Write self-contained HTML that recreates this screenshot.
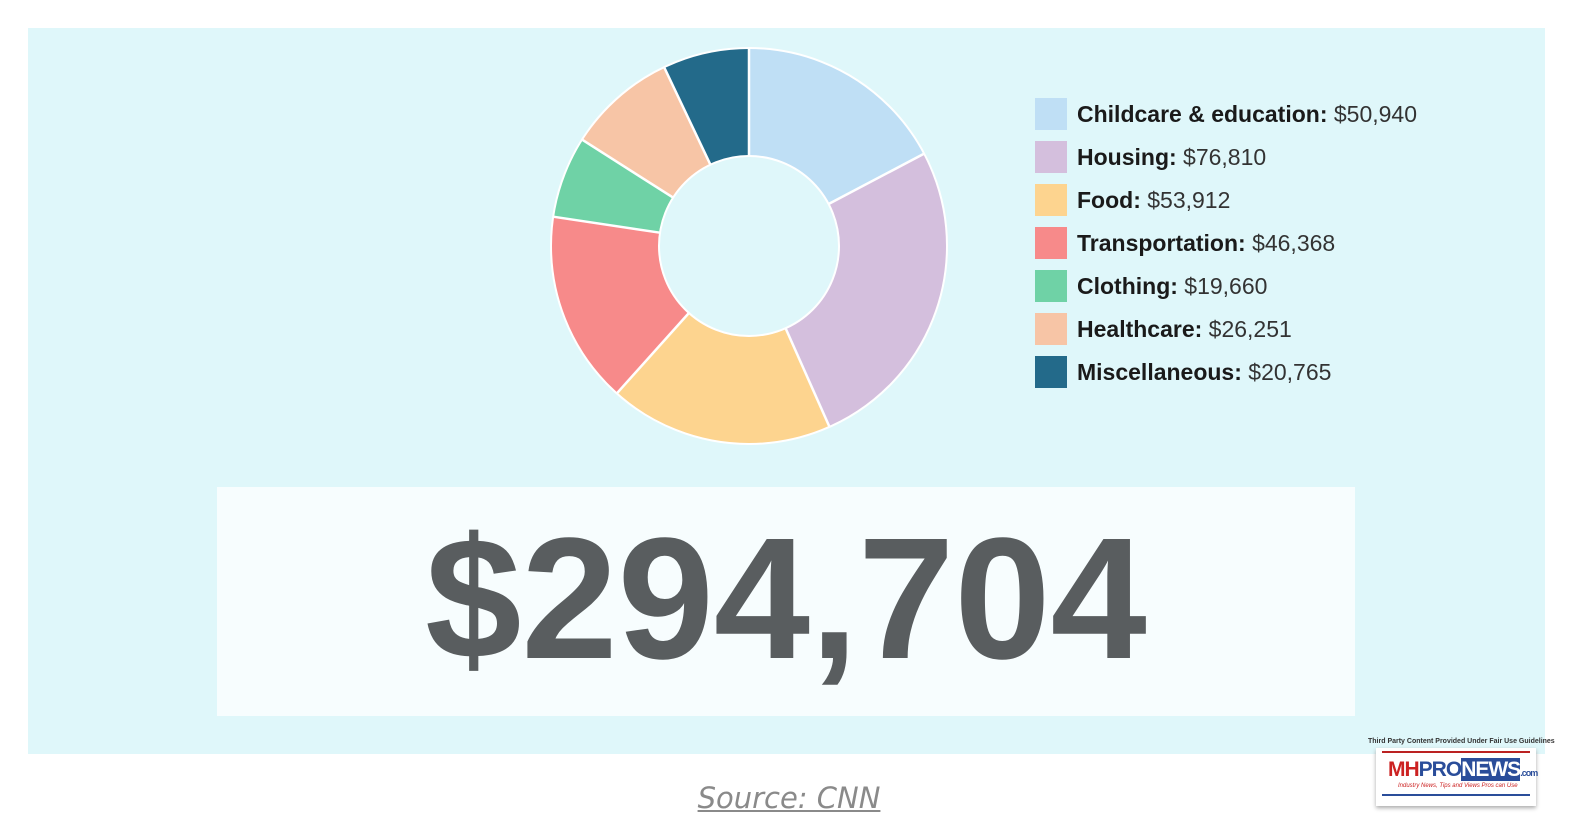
<!DOCTYPE html>
<html><head><meta charset="utf-8"><style>
body{margin:0;width:1570px;height:827px;background:#fff;position:relative;overflow:hidden;font-family:"Liberation Sans",Arial,sans-serif}
.panel{position:absolute;left:28px;top:28px;width:1517px;height:726px;background:#dff7fa}
.box{position:absolute;left:217px;top:487px;width:1138px;height:229px;background:#f7fdfe}
.big{position:absolute;left:0;top:484px;width:1572px;text-align:center;font-weight:bold;font-size:173px;line-height:229px;color:#595d5f}
.leg{position:absolute;left:1035px;font-size:23px;color:#1a1a1a;line-height:32px;white-space:nowrap}
.leg i{display:inline-block;width:32px;height:32px;vertical-align:top;margin-right:10px}
.leg span{color:#333}
.src{position:absolute;left:0;width:1578px;top:781px;text-align:center;font-family:"DejaVu Sans",sans-serif;font-style:italic;font-size:29px;color:#8a8a8a;text-decoration:underline}
</style></head><body>
<div class="panel"></div>
<svg style="position:absolute;left:0;top:0" width="1570" height="827">
<g transform="rotate(-90 749 246)" fill="none" stroke-width="108">
<circle cx="749" cy="246" r="144" stroke="#bfdff5" stroke-dasharray="156.4 1000" stroke-dashoffset="0"/>
<circle cx="749" cy="246" r="144" stroke="#d4bfdd" stroke-dasharray="235.8 1000" stroke-dashoffset="-156.4"/>
<circle cx="749" cy="246" r="144" stroke="#fdd48f" stroke-dasharray="165.5 1000" stroke-dashoffset="-392.2"/>
<circle cx="749" cy="246" r="144" stroke="#f78a8a" stroke-dasharray="142.4 1000" stroke-dashoffset="-557.7"/>
<circle cx="749" cy="246" r="144" stroke="#6fd2a6" stroke-dasharray="60.4 1000" stroke-dashoffset="-700.1"/>
<circle cx="749" cy="246" r="144" stroke="#f7c5a6" stroke-dasharray="80.6 1000" stroke-dashoffset="-760.5"/>
<circle cx="749" cy="246" r="144" stroke="#236a8a" stroke-dasharray="63.8 1000" stroke-dashoffset="-841.1"/>
</g>
<g stroke="#fff" stroke-width="2.5">
<line x1="828.6" y1="204" x2="924.2" y2="153.6"/>
<line x1="785.6" y1="328.2" x2="829.5" y2="426.9"/>
<line x1="688.9" y1="313" x2="616.8" y2="393.4"/>
<line x1="660" y1="232.7" x2="553.2" y2="216.7"/>
<line x1="673.1" y1="197.6" x2="582" y2="139.6"/>
<line x1="710.4" y1="164.7" x2="664.1" y2="67.1"/>
<line x1="749" y1="156" x2="749" y2="48"/>
</g>
<circle cx="749" cy="246" r="198" fill="none" stroke="#fff" stroke-width="2"/>
<circle cx="749" cy="246" r="90" fill="none" stroke="#fff" stroke-width="2"/>
</svg>
<div class="leg" style="top:98px"><i style="background:#bfdff5"></i><b>Childcare &amp; education:</b> <span>$50,940</span></div>
<div class="leg" style="top:141px"><i style="background:#d4bfdd"></i><b>Housing:</b> <span>$76,810</span></div>
<div class="leg" style="top:184px"><i style="background:#fdd48f"></i><b>Food:</b> <span>$53,912</span></div>
<div class="leg" style="top:227px"><i style="background:#f78a8a"></i><b>Transportation:</b> <span>$46,368</span></div>
<div class="leg" style="top:270px"><i style="background:#6fd2a6"></i><b>Clothing:</b> <span>$19,660</span></div>
<div class="leg" style="top:313px"><i style="background:#f7c5a6"></i><b>Healthcare:</b> <span>$26,251</span></div>
<div class="leg" style="top:356px"><i style="background:#236a8a"></i><b>Miscellaneous:</b> <span>$20,765</span></div>
<div class="box"></div>
<div class="big">$294,704</div>
<div style="position:absolute;left:1368px;top:738px;width:175px;font-size:7px;font-weight:bold;color:#333;white-space:nowrap">Third Party Content Provided Under Fair Use Guidelines</div>
<div style="position:absolute;left:1376px;top:748px;width:160px;height:58px;background:#fff;box-shadow:0 2px 4px #aaa">
<div style="position:absolute;left:6px;top:3px;width:148px;height:2px;background:#b22"></div>
<div style="position:absolute;left:12px;top:10px;font-size:21px;font-weight:bold;letter-spacing:-1px;white-space:nowrap"><span style="color:#c22">MH</span><span style="color:#2a4d9a">PRO</span><span style="background:#2a4d9a;color:#fff">NEWS</span><span style="font-size:9px;color:#2a4d9a">.com</span></div>
<div style="position:absolute;left:22px;top:35px;font-size:6px;font-style:italic;color:#c22;white-space:nowrap">Industry News, Tips and Views Pros can Use</div>
<div style="position:absolute;left:6px;top:46px;width:148px;height:2px;background:#2a4d9a"></div>
</div>
<div class="src">Source: CNN</div>
</body></html>
